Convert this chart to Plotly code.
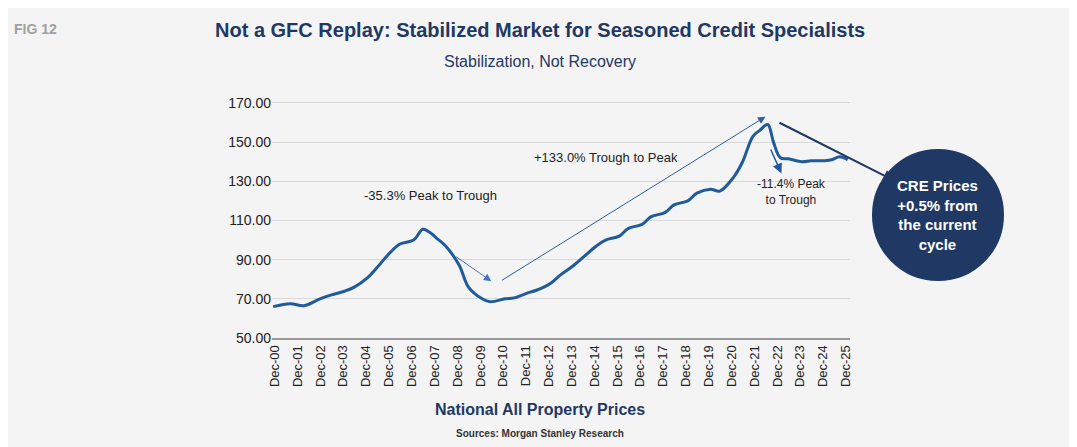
import plotly.graph_objects as go

years = [2000.85,2001.6,2002.2,2002.9,2003.4,2004.0,2004.4,2005.0,2005.4,2006.0,2006.4,2007.0,2007.4,2007.7,2008.0,2008.4,
         2009.0,2009.4,2010.0,2010.35,2011.0,2011.4,2012.0,2012.4,2013.0,2013.4,2014.0,2014.4,2015.0,2015.4,2016.0,2016.4,
         2017.0,2017.4,2018.0,2018.4,2019.0,2019.4,2020.0,2020.4,2021.0,2021.4,2021.85,2022.15,2022.5,2022.75,2023.05,2023.4,
         2024.0,2024.4,2025.0,2025.3,2025.65,2026.0]
prices = [66,67.5,66.5,70,72,74,76,81,86,94,98,100,105.5,104,101,97,
          87,76,70,68.5,70,70.5,73,74.5,78,82,87,91,97,100,102,106,
          108,112,114,118,120,124,126,125,132,140,153,156,159,150,142,141.5,
          140,140.5,140.5,141,142.5,141]
tick_vals = [2000.92 + k for k in range(26)]
tick_text = ["Dec-%02d" % (k % 100) for k in range(0, 26)]

navy = "#1f3864"
line_blue = "#1f5a9c"
fig = go.Figure(go.Scatter(x=years, y=prices, mode="lines", line=dict(color=line_blue, width=3, shape="spline"),
                           hoverinfo="skip"))

OFF = 8  # page body margin
L, R, T, B = 264, 235, 93, 117
W, H = 1077, 447
pw, ph = W - L - R, H - T - B
def px(x): return (x - OFF - L) / pw
def py(y): return (H - B - (y - OFF)) / ph

fig.update_layout(
    width=W, height=H, margin=dict(l=L, r=R, t=T, b=B),
    paper_bgcolor="#f4f4f4", plot_bgcolor="#f4f4f4", showlegend=False,
    font=dict(family="Liberation Sans, Arial", color="#222"),
    xaxis=dict(range=[2000.8, 2026.1], tickvals=tick_vals, ticktext=tick_text, tickangle=-90,
               showgrid=False, showline=True, linecolor="#999", linewidth=2, zeroline=False,
               tickfont=dict(family="Liberation Sans Narrow, Arial Narrow, Liberation Sans", size=13, color="#222")),
    yaxis=dict(range=[50, 171], tickvals=list(range(50, 171, 20)), ticktext=["%.2f" % v for v in range(50, 171, 20)],
               showgrid=True, gridcolor="#d9d9d9", zeroline=False, showline=False,
               tickfont=dict(size=14, color="#222")),
)

ann = []
def arrow(x, y, ax, ay, color, width=1, head=2, size=1.2):
    ann.append(dict(x=x, y=y, ax=ax, ay=ay, xref="x", yref="y", axref="x", ayref="y", text="",
                    showarrow=True, arrowhead=head, arrowwidth=width, arrowcolor=color, arrowsize=size))
arrow(2010.4, 79, 2008.8, 92, "#4472c4", 1, 2, 1.5)
arrow(2022.4, 163, 2010.8, 79, "#2e5f9e", 1, 2, 1.5)
arrow(2023.1, 134, 2022.6, 147, "#1f5a9c", 1.5, 2, 1.3)
ann.append(dict(x=px(895), y=py(181), ax=-117, ay=-59, xref="paper", yref="paper",
                text="", showarrow=True, arrowhead=2, arrowwidth=2, arrowcolor=navy, arrowsize=1.2))

def text(x, y, s, size=13, color="#222", bold=False, xanchor="center"):
    ann.append(dict(x=x, y=y, xref="paper", yref="paper", text=("<b>%s</b>" % s if bold else s), showarrow=False,
                    xanchor=xanchor, yanchor="middle", font=dict(size=size, color=color)))

text(px(430), py(195), "-35.3% Peak to Trough", 13)
text(px(606), py(157), "+133.0% Trough to Peak", 13)
text(px(755), py(192), "-11.4% Peak<br>to Trough", 12, xanchor="left")
text(px(938), py(215), "CRE Prices<br>+0.5% from<br>the current<br>cycle", 15, "white", True)
text(px(540), py(30), "Not a GFC Replay: Stabilized Market for Seasoned Credit Specialists", 20, navy, True)
text(px(540), py(61), "Stabilization, Not Recovery", 16, navy)
text(px(35), py(29), "FIG 12", 14, "#a0a0a0", True)
text(px(540), py(409), "National All Property Prices", 16, navy, True)
text(px(540), py(433), "Sources: Morgan Stanley Research", 10, "#333", True)
fig.update_layout(annotations=ann)

fig.add_shape(type="circle", xref="paper", yref="paper", x0=px(873), x1=px(1003), y0=py(280), y1=py(150),
              fillcolor=navy, line=dict(color=navy), layer="above")
fig.write_html("out.html")
